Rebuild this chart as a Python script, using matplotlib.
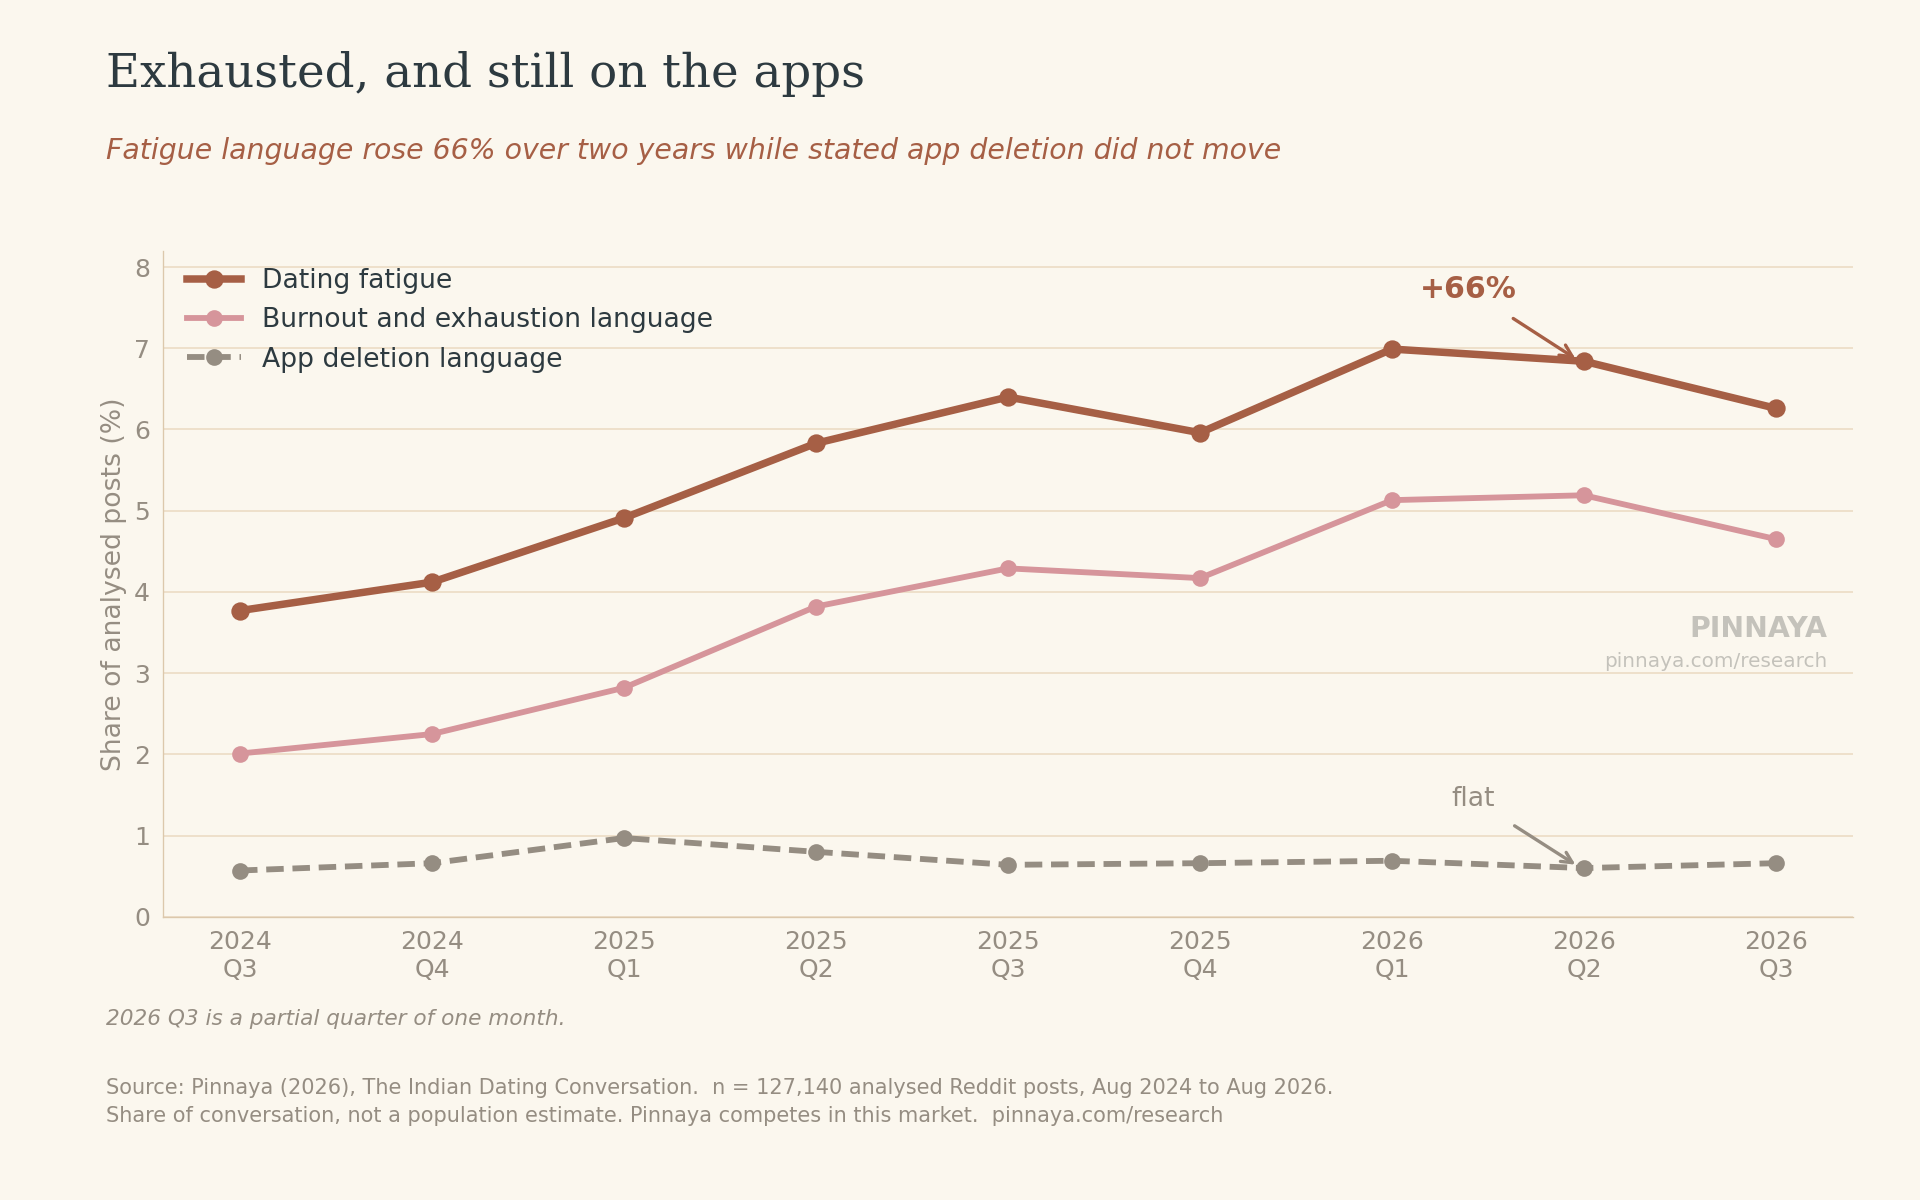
import matplotlib
matplotlib.use("Agg")
import matplotlib.pyplot as plt

quarters = ["2024\nQ3","2024\nQ4","2025\nQ1","2025\nQ2","2025\nQ3","2025\nQ4","2026\nQ1","2026\nQ2","2026\nQ3"]
fatigue = [3.77,4.12,4.91,5.83,6.40,5.96,6.99,6.84,6.26]
burnout = [2.01,2.25,2.82,3.82,4.29,4.17,5.13,5.19,4.65]
deletion = [0.57,0.66,0.97,0.80,0.64,0.66,0.69,0.60,0.66]

bg = "#fbf7ee"
fig = plt.figure(figsize=(16,10), dpi=120, facecolor=bg)
ax = fig.add_axes([0.085,0.236,0.88,0.555], facecolor=bg)
x = list(range(len(quarters)))
ax.plot(x, fatigue, color="#a65f45", lw=4.5, marker="o", ms=10, label="Dating fatigue", zorder=4)
ax.plot(x, burnout, color="#d6959b", lw=3.5, marker="o", ms=9, label="Burnout and exhaustion language", zorder=3)
ax.plot(x, deletion, color="#958d82", lw=3.5, ls=(0,(3,1.5)), marker="o", ms=9, label="App deletion language", zorder=3)
ax.set_xlim(-0.4, 8.4)
ax.set_ylim(0, 8.2)
ax.set_yticks(range(9))
ax.set_xticks(x)
ax.set_xticklabels(quarters)
ax.grid(axis="y", color="#ecdcc4", lw=1)
ax.set_axisbelow(True)
for s in ["top","right"]:
    ax.spines[s].set_visible(False)
for s in ["left","bottom"]:
    ax.spines[s].set_color("#dcc8ac")
ax.tick_params(colors="#958d82", labelsize=15, length=0, pad=8)
ax.set_ylabel("Share of analysed posts (%)", color="#958d82", fontsize=16)
leg = ax.legend(loc="upper left", frameon=False, fontsize=16, bbox_to_anchor=(0.0,1.01), handlelength=2)
for t in leg.get_texts():
    t.set_color("#2d3a40")
ax.annotate("+66%", xy=(6.97,6.85), xytext=(6.4,7.72), color="#a65f45", fontsize=18, fontweight="bold",
            ha="center", va="center", arrowprops=dict(arrowstyle="->", color="#a65f45", lw=2, shrinkA=12))
ax.annotate("flat", xy=(6.97,0.62), xytext=(6.42,1.45), color="#958d82", fontsize=16,
            ha="center", va="center", arrowprops=dict(arrowstyle="->", color="#958d82", lw=2, shrinkA=12))
ax.text(0.985,0.42,"PINNAYA", transform=ax.transAxes, ha="right", fontsize=17, fontweight="bold", color="#c4c2bb")
ax.text(0.985,0.375,"pinnaya.com/research", transform=ax.transAxes, ha="right", fontsize=12, color="#c4c2bb")

fig.text(0.055,0.938,"Exhausted, and still on the apps", fontsize=28, family="DejaVu Serif", color="#2d3a40", va="center")
fig.text(0.055,0.874,"Fatigue language rose 66% over two years while stated app deletion did not move", fontsize=17, style="italic", color="#a65f45", va="center")
fig.text(0.055,0.151,"2026 Q3 is a partial quarter of one month.", fontsize=13, style="italic", color="#958d82", va="center")
fig.text(0.055,0.093,"Source: Pinnaya (2026), The Indian Dating Conversation.  n = 127,140 analysed Reddit posts, Aug 2024 to Aug 2026.", fontsize=12.5, color="#958d82", va="center")
fig.text(0.055,0.070,"Share of conversation, not a population estimate. Pinnaya competes in this market.  pinnaya.com/research", fontsize=12.5, color="#958d82", va="center")
fig.savefig("out.png", dpi=120, facecolor=bg)
